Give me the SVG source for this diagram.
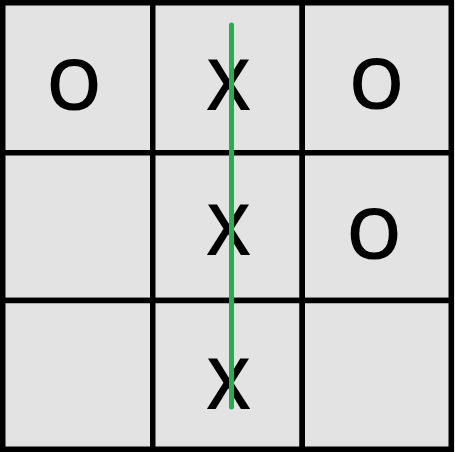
<svg xmlns="http://www.w3.org/2000/svg" width="455" height="452" viewBox="0 0 455 452">
<style>
.cell{fill:#e3e3e3;stroke:#000;stroke-width:5.5}
.mark{font-family:"Open Sans","Liberation Sans",Arial,sans-serif;font-size:70px;font-weight:600;fill:#000;text-anchor:middle}
.win{stroke:#22b14c;stroke-width:5;stroke-linecap:round;fill:none}
</style>
<rect x="0" y="0" width="455" height="452" fill="#e3e3e3"/>
<g id="c00"><rect class="cell" x="2.75" y="2.75" width="150" height="150"/><text class="mark" x="74" y="110">O</text></g>
<g id="c01"><rect class="cell" x="152.75" y="2.75" width="149.5" height="150"/><text class="mark" x="228.5" y="110">X</text></g>
<g id="c02"><rect class="cell" x="302.25" y="2.75" width="149" height="150"/><text class="mark" x="376.5" y="109">O</text></g>
<g id="c10"><rect class="cell" x="2.75" y="152.75" width="150" height="147.75"/></g>
<g id="c11"><rect class="cell" x="152.75" y="152.75" width="149.5" height="147.75"/><text class="mark" x="228.5" y="255">X</text></g>
<g id="c12"><rect class="cell" x="302.25" y="152.75" width="149" height="147.75"/><text class="mark" x="374" y="259">O</text></g>
<g id="c20"><rect class="cell" x="2.75" y="300.5" width="150" height="148.75"/></g>
<g id="c21"><rect class="cell" x="152.75" y="300.5" width="149.5" height="148.75"/><text class="mark" x="228.5" y="409">X</text></g>
<g id="c22"><rect class="cell" x="302.25" y="300.5" width="149" height="148.75"/></g>
<g id="connectors"><line class="win" x1="231.5" y1="25" x2="231.5" y2="407"/></g>
</svg>
